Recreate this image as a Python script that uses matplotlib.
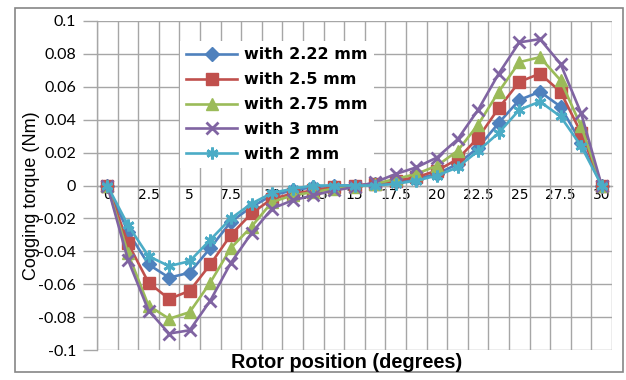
#!/usr/bin/env python3
"""Cogging torque against rotor position for several magnet widths."""

import matplotlib

matplotlib.use("Agg")
import matplotlib.pyplot as plt
from matplotlib.patches import Rectangle
from matplotlib.ticker import FixedLocator


# rotor position in degrees, one point every 1.25
positions = [i * 1.25 for i in range(25)]

torque_222 = [0, -0.028, -0.048, -0.056, -0.053, -0.038, -0.022, -0.013, -0.006,
              -0.003, -0.001, 0.0, 0.0, 0.001, 0.002, 0.004, 0.007, 0.013, 0.023,
              0.038, 0.052, 0.057, 0.048, 0.026, 0]
torque_25 = [0, -0.035, -0.059, -0.069, -0.064, -0.048, -0.030, -0.017, -0.008,
             -0.005, -0.003, -0.001, 0.0, 0.001, 0.003, 0.005, 0.009, 0.016, 0.029,
             0.047, 0.063, 0.068, 0.057, 0.032, 0]
torque_275 = [0, -0.041, -0.073, -0.081, -0.077, -0.059, -0.038, -0.025, -0.010,
              -0.006, -0.004, -0.002, -0.001, 0.001, 0.004, 0.007, 0.012, 0.021, 0.037,
              0.057, 0.075, 0.078, 0.064, 0.036, 0]
torque_3 = [0, -0.045, -0.076, -0.090, -0.088, -0.070, -0.047, -0.029, -0.014,
            -0.009, -0.006, -0.003, -0.001, 0.002, 0.007, 0.011, 0.017, 0.028, 0.046,
            0.068, 0.087, 0.089, 0.074, 0.044, 0]
torque_2 = [0, -0.024, -0.043, -0.049, -0.046, -0.033, -0.020, -0.011, -0.0045,
            -0.002, 0.0, 0.0, 0.0, 0.0, 0.001, 0.003, 0.006, 0.011, 0.021,
            0.032, 0.046, 0.051, 0.042, 0.024, 0]

labels = ["with 2.22 mm", "with 2.5 mm", "with 2.75 mm", "with 3 mm", "with 2 mm"]
x_ticks = [0, 2.5, 5, 7.5, 10, 12.5, 15, 17.5, 20, 22.5, 25, 27.5, 30]
y_ticks = [-0.1, -0.08, -0.06, -0.04, -0.02, 0, 0.02, 0.04, 0.06, 0.08, 0.1]

W, H = 626, 380

fig = plt.figure(figsize=(W / 100, H / 100), dpi=100)
ax = fig.add_axes([97 / W, 1 - 350 / H, (612 - 97) / W, (350 - 21) / H])

styles = [
    dict(color="#4F81BD", marker="D", markersize=7),
    dict(color="#C0504D", marker="s", markersize=8.5),
    dict(color="#9BBB59", marker="^", markersize=9),
    dict(color="#8064A2", marker="x", markersize=8.5, markeredgewidth=2),
    dict(color="#4BACC6", marker=(6, 2, 0), markersize=8.5, markeredgewidth=2),
]
series = [torque_222, torque_25, torque_275, torque_3, torque_2]

for values, label, style in zip(series, labels, styles):
    ax.plot(positions, values, linewidth=1.9, label=label, zorder=3, **style)

ax.set_xlim(-0.625, 30.625)
ax.set_ylim(-0.1, 0.1)

# category axis: gridlines between categories, labels every other point
ax.xaxis.set_major_locator(FixedLocator(x_ticks))
ax.xaxis.set_minor_locator(FixedLocator([-0.625 + 1.25 * k for k in range(26)]))
ax.set_xticklabels([f"{t:g}" for t in x_ticks], family="Liberation Serif", fontsize=13)
ax.spines["bottom"].set_position(("data", 0))
ax.tick_params(axis="x", which="both", length=0, pad=2)
ax.grid(which="minor", axis="x", color="#a6a6a6", linewidth=1.0)

ax.yaxis.set_major_locator(FixedLocator(y_ticks))
ax.set_yticklabels([f"{t:g}" for t in y_ticks], family="Lato", fontsize=11.5)
ax.tick_params(axis="y", direction="out", length=10, width=1.0, color="#a6a6a6", pad=5)
ax.grid(which="major", axis="y", color="#a6a6a6", linewidth=1.0)

for side in ["left", "right", "top", "bottom"]:
    ax.spines[side].set_color("#a6a6a6")
    ax.spines[side].set_linewidth(1.0)
ax.spines["top"].set_visible(False)
ax.spines["right"].set_visible(False)
ax.set_axisbelow(True)

leg = ax.legend(
    loc="upper left",
    bbox_to_anchor=(172 / W, 1 - 33 / H),
    bbox_transform=fig.transFigure,
    prop={"family": "DejaVu Sans", "weight": "bold", "size": 11.5},
    handlelength=3.2,
    handletextpad=0.4,
    labelspacing=0.62,
    borderpad=0.4,
    frameon=True,
    fancybox=False,
)
leg.get_frame().set_facecolor("white")
leg.get_frame().set_edgecolor("none")
leg.get_frame().set_alpha(1.0)

fig.text(347 / W, 1 - 363 / H, "Rotor position (degrees)", ha="center", va="center",
         family="Liberation Sans", weight="bold", fontsize=14.3)
fig.text(32 / W, 1 - 196 / H, "Cogging torque (Nm)", ha="center", va="center",
         rotation=90, family="Liberation Sans", fontsize=13)

fig.patches.append(Rectangle((15 / W, 1 - 372 / H), 608 / W, 364 / H,
                             transform=fig.transFigure, fill=False,
                             edgecolor="#868686", linewidth=1.2))

fig.savefig("out.png", dpi=100)
